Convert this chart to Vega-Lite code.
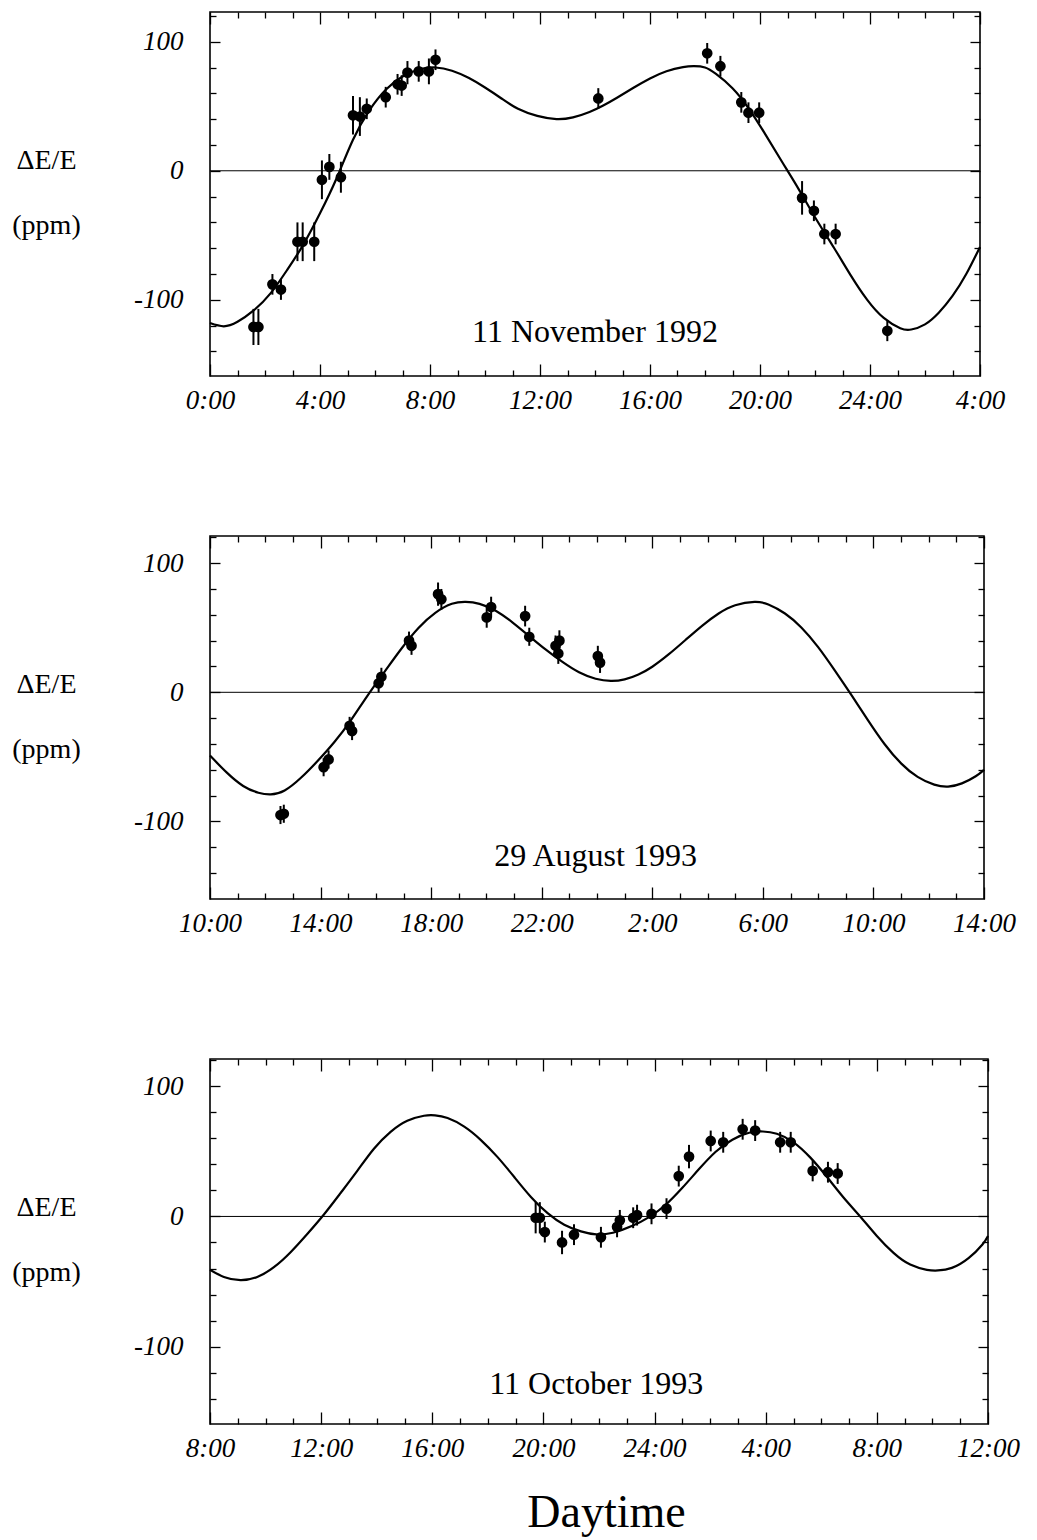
{
  "$schema": "https://vega.github.io/schema/vega-lite/v6.json",
  "background": "white",
  "padding": {"left": 10, "top": 10, "right": 10, "bottom": 5},
  "bounds": "flush",
  "spacing": 160,
  "config": {
    "font": "Liberation Serif",
    "view": {"stroke": "black", "strokeWidth": 1.6},
    "axis": {
      "domain": false,
      "grid": false,
      "labelFlush": false,
      "tickColor": "black",
      "tickWidth": 1.3,
      "labelColor": "black",
      "labelFont": "Liberation Serif",
      "labelFontSize": 27,
      "labelFontStyle": "italic",
      "titleColor": "black",
      "titleFont": "Liberation Serif",
      "titleFontWeight": "normal"
    }
  },
  "datasets": {
    "p1c": [
      {"hour": 0, "value": -118}, {"hour": 0.5, "value": -120.5}, {"hour": 1.0, "value": -117},
      {"hour": 1.6, "value": -108}, {"hour": 2.2, "value": -95}, {"hour": 2.8, "value": -77},
      {"hour": 3.4, "value": -57}, {"hour": 4.0, "value": -33}, {"hour": 4.6, "value": -6},
      {"hour": 5.2, "value": 24}, {"hour": 5.8, "value": 47}, {"hour": 6.4, "value": 63},
      {"hour": 7.0, "value": 73}, {"hour": 7.6, "value": 78.5}, {"hour": 8.2, "value": 80},
      {"hour": 8.8, "value": 77.5}, {"hour": 9.4, "value": 72}, {"hour": 10.0, "value": 64.5},
      {"hour": 10.6, "value": 56}, {"hour": 11.2, "value": 48}, {"hour": 11.9, "value": 42.5},
      {"hour": 12.6, "value": 40}, {"hour": 13.2, "value": 41.4}, {"hour": 13.8, "value": 45.6},
      {"hour": 14.3, "value": 50.6}, {"hour": 14.8, "value": 56.6}, {"hour": 15.4, "value": 64.3},
      {"hour": 16.0, "value": 71.5}, {"hour": 16.6, "value": 77.1}, {"hour": 17.2, "value": 80.3},
      {"hour": 17.6, "value": 81}, {"hour": 18.0, "value": 80}, {"hour": 18.4, "value": 75},
      {"hour": 19.0, "value": 64}, {"hour": 19.6, "value": 48}, {"hour": 20.2, "value": 28},
      {"hour": 20.8, "value": 7}, {"hour": 21.4, "value": -14}, {"hour": 22.0, "value": -36},
      {"hour": 22.7, "value": -60}, {"hour": 23.3, "value": -81}, {"hour": 23.9, "value": -100},
      {"hour": 24.5, "value": -114}, {"hour": 25.1, "value": -122}, {"hour": 25.5, "value": -123},
      {"hour": 26.0, "value": -119}, {"hour": 26.5, "value": -110}, {"hour": 27.0, "value": -97},
      {"hour": 27.5, "value": -80}, {"hour": 28.0, "value": -59}
    ],
    "p1p": [
      {"hour": 1.58, "value": -121, "err": 14}, {"hour": 1.76, "value": -121, "err": 14},
      {"hour": 2.27, "value": -88, "err": 8}, {"hour": 2.58, "value": -92, "err": 8},
      {"hour": 3.18, "value": -55, "err": 15}, {"hour": 3.37, "value": -55, "err": 15},
      {"hour": 3.79, "value": -55, "err": 15}, {"hour": 4.07, "value": -7, "err": 15},
      {"hour": 4.34, "value": 3, "err": 10}, {"hour": 4.76, "value": -5, "err": 12},
      {"hour": 5.2, "value": 43, "err": 15}, {"hour": 5.45, "value": 42, "err": 15},
      {"hour": 5.7, "value": 48, "err": 8}, {"hour": 6.39, "value": 57, "err": 8},
      {"hour": 6.82, "value": 67, "err": 8}, {"hour": 6.97, "value": 66, "err": 8},
      {"hour": 7.18, "value": 76, "err": 9}, {"hour": 7.59, "value": 77, "err": 8},
      {"hour": 7.96, "value": 77, "err": 10}, {"hour": 8.2, "value": 86, "err": 8},
      {"hour": 14.12, "value": 56, "err": 8}, {"hour": 18.08, "value": 91, "err": 8},
      {"hour": 18.56, "value": 81, "err": 8}, {"hour": 19.32, "value": 53, "err": 8},
      {"hour": 19.58, "value": 45, "err": 8}, {"hour": 19.97, "value": 45, "err": 8},
      {"hour": 21.53, "value": -21, "err": 13}, {"hour": 21.96, "value": -31, "err": 8},
      {"hour": 22.34, "value": -49, "err": 8}, {"hour": 22.75, "value": -49, "err": 8},
      {"hour": 24.63, "value": -124, "err": 8}
    ],
    "p2c": [
      {"hour": 10.0, "value": -49}, {"hour": 10.6, "value": -62}, {"hour": 11.2, "value": -72.5},
      {"hour": 11.75, "value": -77.7}, {"hour": 12.2, "value": -79}, {"hour": 12.7, "value": -76},
      {"hour": 13.3, "value": -66}, {"hour": 13.9, "value": -53}, {"hour": 14.5, "value": -38.5},
      {"hour": 15.1, "value": -21.5}, {"hour": 15.7, "value": -2.5}, {"hour": 16.35, "value": 17},
      {"hour": 16.95, "value": 34.5}, {"hour": 17.55, "value": 50}, {"hour": 18.15, "value": 61.5},
      {"hour": 18.75, "value": 68.5}, {"hour": 19.25, "value": 70}, {"hour": 19.75, "value": 68.5},
      {"hour": 20.35, "value": 63}, {"hour": 20.95, "value": 54}, {"hour": 21.55, "value": 43.5},
      {"hour": 22.15, "value": 33}, {"hour": 22.75, "value": 23.5}, {"hour": 23.35, "value": 15.5},
      {"hour": 23.95, "value": 10.5}, {"hour": 24.5, "value": 8.8}, {"hour": 25.0, "value": 10},
      {"hour": 25.5, "value": 13.8}, {"hour": 26.0, "value": 19.8}, {"hour": 26.6, "value": 29.5},
      {"hour": 27.2, "value": 40.5}, {"hour": 27.8, "value": 51.5}, {"hour": 28.4, "value": 61},
      {"hour": 29.0, "value": 67.4}, {"hour": 29.7, "value": 70}, {"hour": 30.2, "value": 68},
      {"hour": 30.8, "value": 61}, {"hour": 31.4, "value": 50}, {"hour": 32.0, "value": 35},
      {"hour": 32.6, "value": 17}, {"hour": 33.2, "value": -2}, {"hour": 33.8, "value": -21.5},
      {"hour": 34.4, "value": -40}, {"hour": 35.0, "value": -55}, {"hour": 35.6, "value": -65.5},
      {"hour": 36.2, "value": -71.5}, {"hour": 36.7, "value": -73}, {"hour": 37.2, "value": -70.5},
      {"hour": 37.7, "value": -65}, {"hour": 38.0, "value": -60}
    ],
    "p2p": [
      {"hour": 12.55, "value": -95, "err": 7}, {"hour": 12.67, "value": -94, "err": 7},
      {"hour": 14.11, "value": -58, "err": 7}, {"hour": 14.29, "value": -52, "err": 7},
      {"hour": 15.05, "value": -26, "err": 7}, {"hour": 15.14, "value": -30, "err": 7},
      {"hour": 16.1, "value": 7, "err": 7}, {"hour": 16.2, "value": 12, "err": 7},
      {"hour": 17.2, "value": 40, "err": 7}, {"hour": 17.29, "value": 36, "err": 7},
      {"hour": 18.25, "value": 76, "err": 9}, {"hour": 18.37, "value": 72, "err": 8},
      {"hour": 20.01, "value": 58, "err": 8}, {"hour": 20.17, "value": 66, "err": 8},
      {"hour": 21.4, "value": 59, "err": 8}, {"hour": 21.55, "value": 43, "err": 7},
      {"hour": 22.5, "value": 36, "err": 8}, {"hour": 22.64, "value": 40, "err": 8},
      {"hour": 22.6, "value": 30, "err": 8}, {"hour": 24.03, "value": 28, "err": 8},
      {"hour": 24.11, "value": 23, "err": 8}
    ],
    "p3c": [
      {"hour": 8.0, "value": -41}, {"hour": 8.5, "value": -46.5}, {"hour": 9.1, "value": -49},
      {"hour": 9.7, "value": -46.5}, {"hour": 10.3, "value": -39}, {"hour": 10.9, "value": -27.5},
      {"hour": 11.5, "value": -13.5}, {"hour": 12.1, "value": 1.5}, {"hour": 12.7, "value": 18},
      {"hour": 13.3, "value": 35}, {"hour": 13.9, "value": 52}, {"hour": 14.5, "value": 65},
      {"hour": 15.1, "value": 73.5}, {"hour": 15.7, "value": 77.4}, {"hour": 16.1, "value": 77.7},
      {"hour": 16.55, "value": 75.6}, {"hour": 17.15, "value": 69}, {"hour": 17.75, "value": 58.7},
      {"hour": 18.35, "value": 45.6}, {"hour": 18.95, "value": 30.3}, {"hour": 19.55, "value": 15},
      {"hour": 20.15, "value": 2.5}, {"hour": 20.75, "value": -6.4}, {"hour": 21.35, "value": -11.5},
      {"hour": 21.9, "value": -13.8}, {"hour": 22.5, "value": -12.5}, {"hour": 23.2, "value": -7.2},
      {"hour": 23.8, "value": -0.5}, {"hour": 24.4, "value": 9}, {"hour": 25.0, "value": 22},
      {"hour": 25.6, "value": 36.4}, {"hour": 26.2, "value": 49.7}, {"hour": 26.8, "value": 59},
      {"hour": 27.4, "value": 64.3}, {"hour": 27.9, "value": 65.3}, {"hour": 28.4, "value": 63.5},
      {"hour": 29.0, "value": 57}, {"hour": 29.6, "value": 45.4}, {"hour": 30.2, "value": 30.5},
      {"hour": 30.8, "value": 14.6}, {"hour": 31.4, "value": 0}, {"hour": 32.0, "value": -15},
      {"hour": 32.6, "value": -28}, {"hour": 33.2, "value": -37}, {"hour": 33.8, "value": -41},
      {"hour": 34.2, "value": -41.5}, {"hour": 34.7, "value": -39.5}, {"hour": 35.3, "value": -32},
      {"hour": 35.8, "value": -21.5}, {"hour": 36.0, "value": -15}
    ],
    "p3p": [
      {"hour": 19.72, "value": -1, "err": 12}, {"hour": 19.87, "value": -1, "err": 12},
      {"hour": 20.05, "value": -12, "err": 8}, {"hour": 20.67, "value": -20, "err": 9},
      {"hour": 21.1, "value": -14, "err": 8}, {"hour": 22.07, "value": -16, "err": 8},
      {"hour": 22.65, "value": -8, "err": 8}, {"hour": 22.75, "value": -3, "err": 8},
      {"hour": 23.23, "value": -1, "err": 8}, {"hour": 23.37, "value": 1, "err": 8},
      {"hour": 23.89, "value": 2, "err": 8}, {"hour": 24.43, "value": 6, "err": 8},
      {"hour": 24.87, "value": 31, "err": 8}, {"hour": 25.24, "value": 46, "err": 9},
      {"hour": 26.02, "value": 58, "err": 8}, {"hour": 26.47, "value": 57, "err": 8},
      {"hour": 27.17, "value": 67, "err": 8}, {"hour": 27.62, "value": 66, "err": 8},
      {"hour": 28.52, "value": 57, "err": 8}, {"hour": 28.9, "value": 57, "err": 8},
      {"hour": 29.69, "value": 35, "err": 8}, {"hour": 30.24, "value": 34, "err": 8},
      {"hour": 30.59, "value": 33, "err": 8}
    ]
  },
  "vconcat": [
    {
      "width": 770,
      "height": 364,
      "resolve": {"axis": {"x": "independent", "y": "independent"}},
      "layer": [
        {
          "data": {"name": "p1c"},
          "mark": {"type": "line", "color": "black", "strokeWidth": 2.2, "interpolate": "natural"},
          "encoding": {
            "x": {"field": "hour", "type": "quantitative", "scale": {"domain": [0, 28], "nice": false, "zero": false},
              "axis": {"orient": "bottom", "title": null, "values": [0,1,2,3,4,5,6,7,8,9,10,11,12,13,14,15,16,17,18,19,20,21,22,23,24,25,26,27,28],
                "tickSize": {"condition": {"test": "datum.value % 4 === 0", "value": -12}, "value": -6},
                "labelPadding": 23, "labelExpr": "datum.value % 4 === 0 ? (datum.value > 24 ? datum.value - 24 : datum.value) + ':00' : ''"}},
            "y": {"field": "value", "type": "quantitative", "scale": {"domain": [-159, 123], "nice": false, "zero": false},
              "axis": {"orient": "left", "values": [-140,-120,-100,-80,-60,-40,-20,0,20,40,60,80,100,120],
                "tickSize": {"condition": {"test": "datum.value % 100 === 0", "value": -10}, "value": -6},
                "labelPadding": 37, "labelExpr": "datum.value % 100 === 0 ? '' + datum.value : ''",
                "title": ["ΔE/E", "(ppm)"], "titleFontSize": 28, "titleAngle": 0, "titleAlign": "center", "titleBaseline": "middle",
                "titleX": -164, "titleY": 148, "titleLineHeight": 65}}
          }
        },
        {
          "data": {"name": "p1p"},
          "mark": {"type": "errorbar", "color": "black", "thickness": 2},
          "encoding": {
            "x": {"field": "hour", "type": "quantitative",
              "axis": {"orient": "top", "title": null, "labels": false, "values": [0,1,2,3,4,5,6,7,8,9,10,11,12,13,14,15,16,17,18,19,20,21,22,23,24,25,26,27,28],
                "tickSize": {"condition": {"test": "datum.value % 4 === 0", "value": -12}, "value": -6}}},
            "y": {"field": "value", "type": "quantitative",
              "axis": {"orient": "right", "title": null, "labels": false, "values": [-140,-120,-100,-80,-60,-40,-20,0,20,40,60,80,100,120],
                "tickSize": {"condition": {"test": "datum.value % 100 === 0", "value": -10}, "value": -6}}},
            "yError": {"field": "err"}
          }
        },
        {
          "data": {"name": "p1p"},
          "mark": {"type": "circle", "color": "black", "opacity": 1, "size": 115},
          "encoding": {
            "x": {"field": "hour", "type": "quantitative", "axis": null},
            "y": {"field": "value", "type": "quantitative", "axis": null}
          }
        },
        {
          "data": {"values": [{}]},
          "mark": {"type": "rule", "color": "black", "strokeWidth": 1},
          "encoding": {"y": {"datum": 0, "type": "quantitative", "axis": null}}
        },
        {
          "data": {"values": [{"hour": 14.0, "value": -125, "label": "11 November 1992"}]},
          "mark": {"type": "text", "font": "Liberation Serif", "fontSize": 32, "color": "black", "baseline": "middle"},
          "encoding": {
            "x": {"field": "hour", "type": "quantitative", "axis": null},
            "y": {"field": "value", "type": "quantitative", "axis": null},
            "text": {"field": "label"}
          }
        }
      ]
    },
    {
      "width": 774,
      "height": 363,
      "resolve": {"axis": {"x": "independent", "y": "independent"}},
      "layer": [
        {
          "data": {"name": "p2c"},
          "mark": {"type": "line", "color": "black", "strokeWidth": 2.2, "interpolate": "natural"},
          "encoding": {
            "x": {"field": "hour", "type": "quantitative", "scale": {"domain": [10, 38], "nice": false, "zero": false},
              "axis": {"orient": "bottom", "title": null, "values": [10,11,12,13,14,15,16,17,18,19,20,21,22,23,24,25,26,27,28,29,30,31,32,33,34,35,36,37,38],
                "tickSize": {"condition": {"test": "(datum.value - 2) % 4 === 0", "value": -12}, "value": -6},
                "labelPadding": 23, "labelExpr": "(datum.value - 2) % 4 === 0 ? (datum.value > 24 ? datum.value - 24 : datum.value) + ':00' : ''"}},
            "y": {"field": "value", "type": "quantitative", "scale": {"domain": [-160, 121], "nice": false, "zero": false},
              "axis": {"orient": "left", "values": [-140,-120,-100,-80,-60,-40,-20,0,20,40,60,80,100,120],
                "tickSize": {"condition": {"test": "datum.value % 100 === 0", "value": -10}, "value": -6},
                "labelPadding": 37, "labelExpr": "datum.value % 100 === 0 ? '' + datum.value : ''",
                "title": ["ΔE/E", "(ppm)"], "titleFontSize": 28, "titleAngle": 0, "titleAlign": "center", "titleBaseline": "middle",
                "titleX": -164, "titleY": 148, "titleLineHeight": 65}}
          }
        },
        {
          "data": {"name": "p2p"},
          "mark": {"type": "errorbar", "color": "black", "thickness": 2},
          "encoding": {
            "x": {"field": "hour", "type": "quantitative",
              "axis": {"orient": "top", "title": null, "labels": false, "values": [10,11,12,13,14,15,16,17,18,19,20,21,22,23,24,25,26,27,28,29,30,31,32,33,34,35,36,37,38],
                "tickSize": {"condition": {"test": "(datum.value - 2) % 4 === 0", "value": -12}, "value": -6}}},
            "y": {"field": "value", "type": "quantitative",
              "axis": {"orient": "right", "title": null, "labels": false, "values": [-140,-120,-100,-80,-60,-40,-20,0,20,40,60,80,100,120],
                "tickSize": {"condition": {"test": "datum.value % 100 === 0", "value": -10}, "value": -6}}},
            "yError": {"field": "err"}
          }
        },
        {
          "data": {"name": "p2p"},
          "mark": {"type": "circle", "color": "black", "opacity": 1, "size": 115},
          "encoding": {
            "x": {"field": "hour", "type": "quantitative", "axis": null},
            "y": {"field": "value", "type": "quantitative", "axis": null}
          }
        },
        {
          "data": {"values": [{}]},
          "mark": {"type": "rule", "color": "black", "strokeWidth": 1},
          "encoding": {"y": {"datum": 0, "type": "quantitative", "axis": null}}
        },
        {
          "data": {"values": [{"hour": 23.95, "value": -127, "label": "29 August 1993"}]},
          "mark": {"type": "text", "font": "Liberation Serif", "fontSize": 32, "color": "black", "baseline": "middle"},
          "encoding": {
            "x": {"field": "hour", "type": "quantitative", "axis": null},
            "y": {"field": "value", "type": "quantitative", "axis": null},
            "text": {"field": "label"}
          }
        }
      ]
    },
    {
      "width": 778,
      "height": 365,
      "resolve": {"axis": {"x": "independent", "y": "independent"}},
      "layer": [
        {
          "data": {"name": "p3c"},
          "mark": {"type": "line", "color": "black", "strokeWidth": 2.2, "interpolate": "natural"},
          "encoding": {
            "x": {"field": "hour", "type": "quantitative", "scale": {"domain": [8, 36], "nice": false, "zero": false},
              "axis": {"orient": "bottom", "values": [8,9,10,11,12,13,14,15,16,17,18,19,20,21,22,23,24,25,26,27,28,29,30,31,32,33,34,35,36],
                "tickSize": {"condition": {"test": "datum.value % 4 === 0", "value": -12}, "value": -6},
                "labelPadding": 23, "labelExpr": "datum.value % 4 === 0 ? (datum.value > 24 ? datum.value - 24 : datum.value) + ':00' : ''",
                "title": "Daytime", "titleFontSize": 46, "titleFontStyle": "normal", "titleAlign": "center", "titleBaseline": "alphabetic",
                "titleX": 396, "titleY": 102}},
            "y": {"field": "value", "type": "quantitative", "scale": {"domain": [-159.5, 121], "nice": false, "zero": false},
              "axis": {"orient": "left", "values": [-140,-120,-100,-80,-60,-40,-20,0,20,40,60,80,100,120],
                "tickSize": {"condition": {"test": "datum.value % 100 === 0", "value": -10}, "value": -6},
                "labelPadding": 37, "labelExpr": "datum.value % 100 === 0 ? '' + datum.value : ''",
                "title": ["ΔE/E", "(ppm)"], "titleFontSize": 28, "titleAngle": 0, "titleAlign": "center", "titleBaseline": "middle",
                "titleX": -164, "titleY": 148, "titleLineHeight": 65}}
          }
        },
        {
          "data": {"name": "p3p"},
          "mark": {"type": "errorbar", "color": "black", "thickness": 2},
          "encoding": {
            "x": {"field": "hour", "type": "quantitative",
              "axis": {"orient": "top", "title": null, "labels": false, "values": [8,9,10,11,12,13,14,15,16,17,18,19,20,21,22,23,24,25,26,27,28,29,30,31,32,33,34,35,36],
                "tickSize": {"condition": {"test": "datum.value % 4 === 0", "value": -12}, "value": -6}}},
            "y": {"field": "value", "type": "quantitative",
              "axis": {"orient": "right", "title": null, "labels": false, "values": [-140,-120,-100,-80,-60,-40,-20,0,20,40,60,80,100,120],
                "tickSize": {"condition": {"test": "datum.value % 100 === 0", "value": -10}, "value": -6}}},
            "yError": {"field": "err"}
          }
        },
        {
          "data": {"name": "p3p"},
          "mark": {"type": "circle", "color": "black", "opacity": 1, "size": 115},
          "encoding": {
            "x": {"field": "hour", "type": "quantitative", "axis": null},
            "y": {"field": "value", "type": "quantitative", "axis": null}
          }
        },
        {
          "data": {"values": [{}]},
          "mark": {"type": "rule", "color": "black", "strokeWidth": 1},
          "encoding": {"y": {"datum": 0, "type": "quantitative", "axis": null}}
        },
        {
          "data": {"values": [{"hour": 21.9, "value": -129, "label": "11 October 1993"}]},
          "mark": {"type": "text", "font": "Liberation Serif", "fontSize": 32, "color": "black", "baseline": "middle"},
          "encoding": {
            "x": {"field": "hour", "type": "quantitative", "axis": null},
            "y": {"field": "value", "type": "quantitative", "axis": null},
            "text": {"field": "label"}
          }
        }
      ]
    }
  ]
}
